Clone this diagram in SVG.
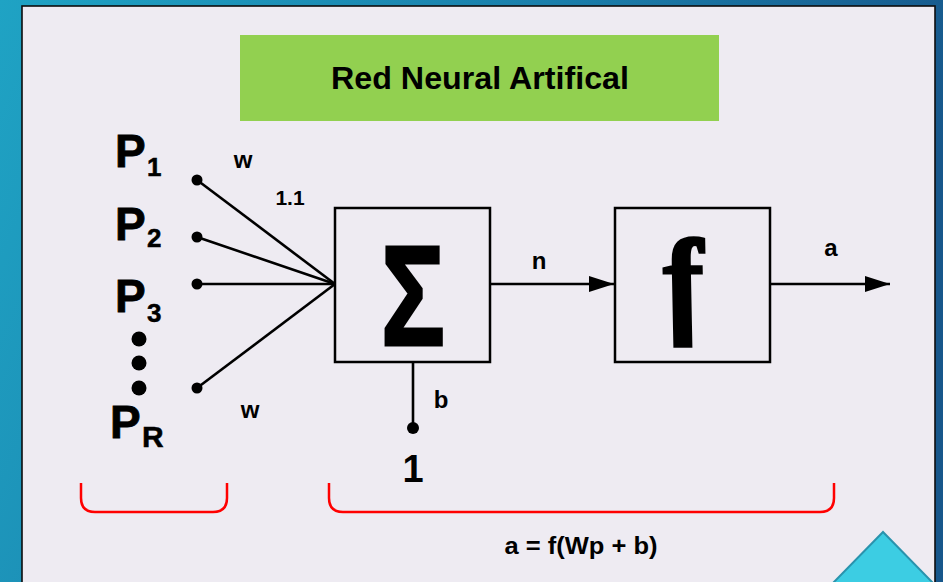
<svg xmlns="http://www.w3.org/2000/svg" width="943" height="582" viewBox="0 0 943 582">
  <defs>
    <linearGradient id="bg" x1="0" y1="0" x2="1" y2="0.25">
      <stop offset="0" stop-color="#1fa3c4"/>
      <stop offset="0.55" stop-color="#1a7fab"/>
      <stop offset="1" stop-color="#17578b"/>
    </linearGradient>
    <marker id="arrow" viewBox="0 0 25 16" refX="25" refY="8" markerWidth="25" markerHeight="16" markerUnits="userSpaceOnUse" orient="auto">
      <path d="M0,0 L25,8 L0,16 Z" fill="#000"/>
    </marker>
    <style>
      .t { font-family: "Liberation Sans", Arial, sans-serif; font-weight: bold; fill: #000; }
      .big { font-size: 46px; stroke: #000; stroke-width: 0.8; }
      .sub { font-size: 26px; stroke: #000; stroke-width: 0.5; }
      .lbl { font-size: 24px; }
      .box { fill: none; stroke: #000; stroke-width: 2.5; }
      .wire { fill: none; stroke: #000; stroke-width: 2.6; }
      .brace { fill: none; stroke: #ff0000; stroke-width: 2.5; }
      .dot { fill: #000; }
    </style>
  </defs>

  <rect x="0" y="0" width="943" height="582" fill="url(#bg)"/>
  <rect x="22" y="6" width="913" height="600" fill="#eeebf2" stroke="#0d0d0d" stroke-width="1.6"/>

  <g id="title">
    <rect x="240" y="35" width="479" height="86" fill="#92d050"/>
    <text class="t" x="480" y="89" font-size="31" text-anchor="middle" textLength="298" lengthAdjust="spacingAndGlyphs">Red Neural Artifical</text>
  </g>

  <g id="connectors">
    <line class="wire" x1="197" y1="180" x2="335" y2="284"/>
    <line class="wire" x1="197" y1="237" x2="335" y2="284"/>
    <line class="wire" x1="197" y1="284" x2="335" y2="284"/>
    <line class="wire" x1="197" y1="388" x2="335" y2="284"/>
    <line class="wire" x1="490" y1="284" x2="614" y2="284" marker-end="url(#arrow)"/>
    <line class="wire" x1="770" y1="284" x2="890" y2="284" marker-end="url(#arrow)"/>
    <line class="wire" x1="413" y1="362" x2="413" y2="428"/>
    <text class="t lbl" x="243" y="168" text-anchor="middle">w</text>
    <text class="t" x="290" y="205" font-size="21" text-anchor="middle">1.1</text>
    <text class="t lbl" x="250" y="418" text-anchor="middle">w</text>
    <text class="t lbl" x="539" y="269" text-anchor="middle">n</text>
    <text class="t lbl" x="831" y="256" text-anchor="middle">a</text>
    <text class="t lbl" x="441" y="408" text-anchor="middle">b</text>
  </g>

  <g id="input-p1">
    <text class="t big" x="115" y="167">P</text>
    <text class="t sub" x="147" y="176">1</text>
    <circle class="dot" cx="197" cy="180" r="5.5"/>
  </g>
  <g id="input-p2">
    <text class="t big" x="115" y="240">P</text>
    <text class="t sub" x="147" y="247">2</text>
    <circle class="dot" cx="197" cy="237" r="5.5"/>
  </g>
  <g id="input-p3">
    <text class="t big" x="115" y="312">P</text>
    <text class="t sub" x="147" y="322">3</text>
    <circle class="dot" cx="197" cy="284" r="5.5"/>
  </g>
  <g id="ellipsis">
    <circle class="dot" cx="139" cy="339" r="7.5"/>
    <circle class="dot" cx="139" cy="363" r="7.5"/>
    <circle class="dot" cx="139" cy="388" r="7.5"/>
  </g>
  <g id="input-pr">
    <text class="t big" x="110" y="438">P</text>
    <text class="t" x="142" y="447" font-size="30" stroke="#000" stroke-width="0.5">R</text>
    <circle class="dot" cx="197" cy="388" r="5.5"/>
  </g>

  <g id="sum">
    <rect class="box" x="335" y="208" width="155" height="154"/>
    <text class="t" transform="translate(413,345) scale(0.75,1)" font-size="142" text-anchor="middle" stroke="#000" stroke-width="3">Σ</text>
  </g>

  <g id="activation">
    <rect class="box" x="615" y="208" width="155" height="154"/>
    <text transform="translate(690,321) skewX(11)" font-family="'Liberation Serif', 'Times New Roman', serif" font-weight="bold" font-style="italic" font-size="118" text-anchor="middle" fill="#000" stroke="#000" stroke-width="3.5">f</text>
  </g>

  <g id="bias">
    <circle class="dot" cx="413" cy="428" r="6"/>
    <text class="t" x="413" y="482" font-size="38" text-anchor="middle">1</text>
  </g>

  <g id="brackets">
    <path class="brace" d="M81,483 V498 Q81,512 95,512 H213 Q227,512 227,498 V483"/>
    <path class="brace" d="M329,483 V498 Q329,512 343,512 H820 Q834,512 834,498 V483"/>
  </g>

  <g id="formula">
    <text class="t" x="581" y="554" font-size="23" text-anchor="middle" textLength="153" lengthAdjust="spacingAndGlyphs">a = f(Wp + b)</text>
  </g>

  <polygon points="833,583 883,532 933,583" fill="#3ccde3" stroke="#2a93ad" stroke-width="2"/>
</svg>
